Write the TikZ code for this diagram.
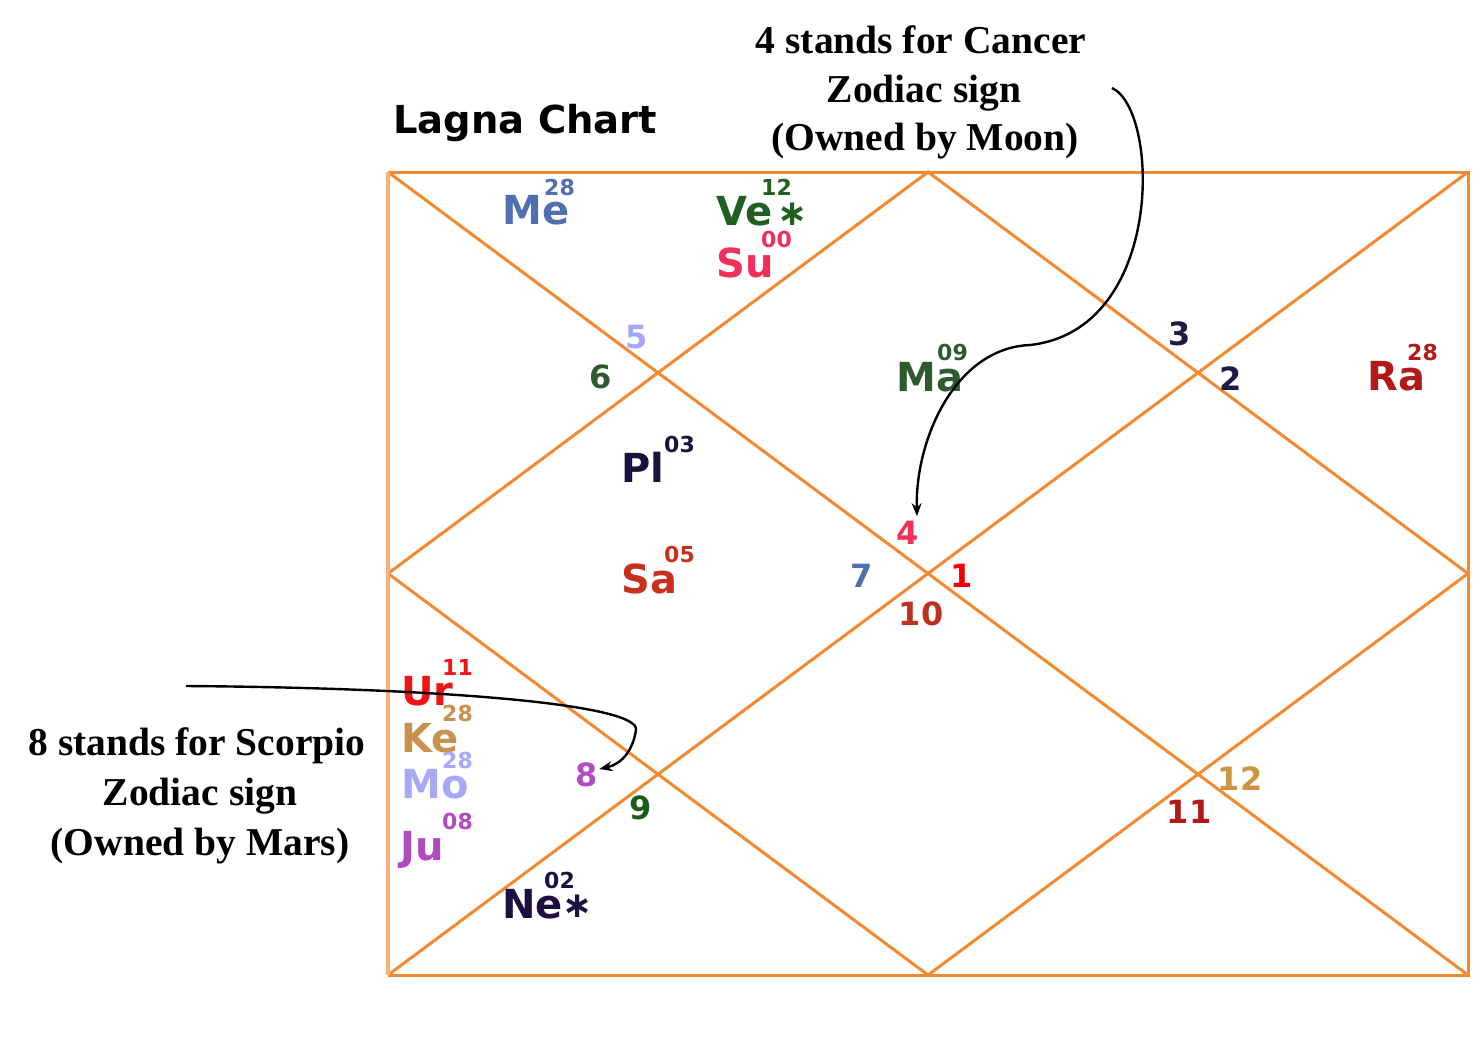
\documentclass[tikz,border=0pt]{standalone}
\usepackage{fontspec}
\setmainfont{Liberation Serif}
\newfontfamily\chartfont{DejaVu Sans}
\usetikzlibrary{arrows.meta}
\definecolor{orangeL}{HTML}{F58930}
\definecolor{leftedge}{HTML}{F9B07C}
\definecolor{cMe}{HTML}{4F6FB0}
\definecolor{cVe}{HTML}{1F5F1F}
\definecolor{cSu}{HTML}{F0305A}
\definecolor{cFive}{HTML}{A3A8F5}
\definecolor{cSix}{HTML}{2E5A2E}
\definecolor{cMa}{HTML}{2F5A30}
\definecolor{cPl}{HTML}{17133D}
\definecolor{cSa}{HTML}{C8301E}
\definecolor{cFour}{HTML}{F03058}
\definecolor{cSeven}{HTML}{4F70B0}
\definecolor{cOne}{HTML}{F20000}
\definecolor{cTen}{HTML}{C0301E}
\definecolor{cNavy}{HTML}{1D1B42}
\definecolor{cRa}{HTML}{B21A1A}
\definecolor{cUr}{HTML}{F01414}
\definecolor{cKe}{HTML}{C8924E}
\definecolor{cMo}{HTML}{A8A8F8}
\definecolor{cJu}{HTML}{B04CC0}
\definecolor{cEight}{HTML}{B050C0}
\definecolor{cNine}{HTML}{1A5C1A}
\definecolor{cNe}{HTML}{1C1040}
\definecolor{cTwelve}{HTML}{CC9440}
\definecolor{cEleven}{HTML}{B21A1A}
\begin{document}
\begin{tikzpicture}[x=1pt,y=-1pt,
 chartline/.style={draw=orangeL, line width=3pt, line join=miter},
 planet/.style={anchor=base west, inner sep=0pt, font=\chartfont\bfseries\fontsize{40}{40}\selectfont},
 deg/.style={anchor=base west, inner sep=0pt, font=\chartfont\bfseries\fontsize{22}{22}\selectfont},
 astx/.style={anchor=center, inner sep=0pt, font=\chartfont\bfseries\fontsize{36}{36}\selectfont},
 house/.style={anchor=center, inner sep=1pt, font=\chartfont\bfseries\fontsize{32}{32}\selectfont},
 note/.style={anchor=base, inner sep=0pt, font=\bfseries\fontsize{39.5}{39.5}\selectfont},
 pointer/.style={draw=black, line width=2.4pt, -{Stealth[length=13pt,width=10pt]}}]
\useasboundingbox (0,0) rectangle (1483,1060);
% chart frame
\coordinate (TL) at (388,172);
\coordinate (TR) at (1468,172);
\coordinate (BR) at (1468,975);
\coordinate (BL) at (388,975);
\coordinate (T) at (928,172);
\coordinate (L) at (388,573.5);
\coordinate (B) at (928,975);
\coordinate (R) at (1468,573.5);
\draw[chartline] (TL) -- (TR) -- (BR) -- (BL);
\draw[chartline] (TL) -- (BR);
\draw[chartline] (TR) -- (BL);
\draw[chartline] (T) -- (R) -- (B) -- (L) -- cycle;
\draw[draw=leftedge, line width=4.5pt] (BL) -- (TL);
% title
\node[anchor=base west, inner sep=0pt, font=\chartfont\bfseries\fontsize{38.5}{38.5}\selectfont] (title) at (393,133) {Lagna Chart};
% planets
\node[planet, text=cMe] (me) at (502,224) {Me};
\node[deg, text=cMe] (meD) at (544,195) {28};
\node[planet, text=cVe] (ve) at (716,225) {Ve};
\node[astx, text=cVe] (veS) at (793,214) {∗};
\node[deg, text=cVe] (veD) at (761,195) {12};
\node[planet, text=cSu] (su) at (716,277) {Su};
\node[deg, text=cSu] (suD) at (761,247) {00};
\node[planet, text=cMa] (ma) at (896,391) {Ma};
\node[deg, text=cMa] (maD) at (937,360) {09};
\node[planet, text=cPl] (pl) at (621,482) {Pl};
\node[deg, text=cPl] (plD) at (664,452) {03};
\node[planet, text=cSa] (sa) at (621,593) {Sa};
\node[deg, text=cSa] (saD) at (664,562) {05};
\node[planet, text=cRa] (ra) at (1367,390) {Ra};
\node[deg, text=cRa] (raD) at (1407,360) {28};
\node[planet, text=cUr] (ur) at (401,705) {Ur};
\node[deg, text=cUr] (urD) at (442,675) {11};
\node[planet, text=cKe] (ke) at (401,752) {Ke};
\node[deg, text=cKe] (keD) at (442,721) {28};
\node[planet, text=cMo] (mo) at (401,798) {Mo};
\node[deg, text=cMo] (moD) at (442,768) {28};
\node[planet, text=cJu] (ju) at (400,860) {Ju};
\node[deg, text=cJu] (juD) at (442,829) {08};
\node[planet, text=cNe] (ne) at (502,918) {Ne};
\node[astx, text=cNe] (neS) at (578,906) {∗};
\node[deg, text=cNe] (neD) at (544,888) {02};
% house numbers
\node[house, text=cFive] (n5) at (637,337) {5};
\node[house, text=cSix] (n6) at (601,377) {6};
\node[house, text=cFour] (n4) at (908,533) {4};
\node[house, text=cSeven] (n7) at (862,576) {7};
\node[house, text=cOne] (n1) at (962,576) {1};
\node[house, text=cTen] (n10) at (921,614) {10};
\node[house, text=cNavy] (n3) at (1180,334) {3};
\node[house, text=cNavy] (n2) at (1231,379) {2};
\node[house, text=cEight] (n8) at (587,775) {8};
\node[house, text=cNine] (n9) at (641,808) {9};
\node[house, text=cTwelve] (n12) at (1240,779) {12};
\node[house, text=cEleven] (n11) at (1189,812) {11};
% annotations
\node[note] (a1) at (921,53) {4 stands for Cancer};
\node[note] (a2) at (924,102) {Zodiac sign};
\node[note] (a3) at (925,150) {(Owned by Moon)};
\node[note] (b1) at (197,755) {8 stands for Scorpio};
\node[note] (b2) at (200,805) {Zodiac sign};
\node[note] (b3) at (200,855) {(Owned by Mars)};
% pointers
\coordinate (p1) at (1112,88);
\coordinate (p2) at (186,686);
\draw[pointer] (p1) .. controls (1160,110) and (1165,330) .. (1030,345)
  .. controls (955,348) and (915,440) .. ([xshift=9pt,yshift=4pt]n4.north);
\draw[pointer] (p2) .. controls (450,688) and (640,705) .. (636,730)
  .. controls (633,750) and (622,764) .. ([yshift=6pt]n8.east);
\end{tikzpicture}
\end{document}
